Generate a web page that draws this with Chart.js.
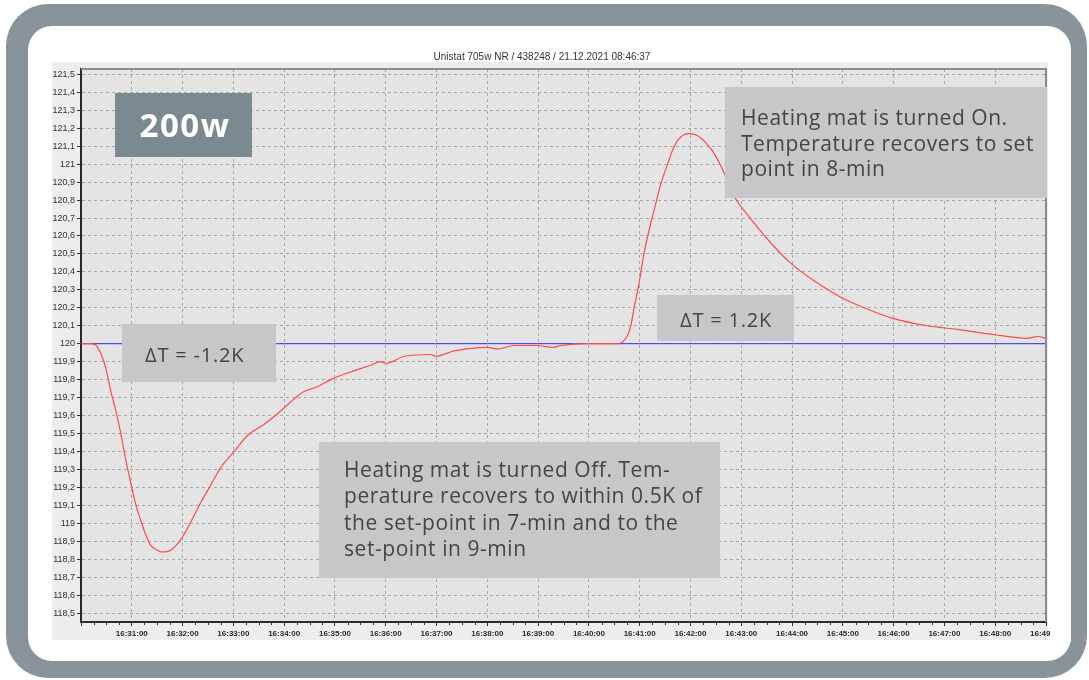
<!DOCTYPE html>
<html>
<head>
<meta charset="utf-8">
<script src="https://cdn.jsdelivr.net/npm/chart.js@4.4.1/dist/chart.umd.min.js"></script>
<style>
  html, body { margin: 0; padding: 0; background: #ffffff; }
  canvas { display: block; }
</style>
</head>
<body>
<canvas id="graficoUnistat" width="1089" height="680"></canvas>
<script>
// Dados (hora da amostra e temperatura em °C)
const chartTitle = "Unistat 705w NR / 438248 / 21.12.2021 08:46:37";

const sampleTimes = [
  "16:30:00", "16:30:12", "16:30:18", "16:30:23", "16:30:29", "16:30:35", "16:30:41", "16:30:47",
  "16:30:53", "16:30:59", "16:31:05", "16:31:11", "16:31:17", "16:31:22", "16:31:30", "16:31:36",
  "16:31:46", "16:31:58", "16:32:10", "16:32:22", "16:32:33", "16:32:45", "16:33:01", "16:33:17",
  "16:33:36", "16:33:52", "16:34:04", "16:34:22", "16:34:39", "16:34:55", "16:35:23", "16:35:42",
  "16:35:54", "16:36:00", "16:36:22", "16:36:53", "16:36:59", "16:37:21", "16:38:00", "16:38:12",
  "16:38:32", "16:38:59", "16:39:17", "16:39:27", "16:39:58", "16:40:22", "16:40:34", "16:40:40",
  "16:40:46", "16:40:50", "16:40:53", "16:40:59", "16:41:05", "16:41:13", "16:41:19", "16:41:25",
  "16:41:33", "16:41:39", "16:41:46", "16:41:58", "16:42:08", "16:42:18", "16:42:28", "16:42:40",
  "16:42:53", "16:43:07", "16:43:19", "16:43:39", "16:43:58", "16:44:26", "16:44:57", "16:45:25",
  "16:46:00", "16:46:40", "16:47:15", "16:47:59", "16:48:38", "16:48:50", "16:49:00"
];

const bathTemps = [
  120.00, 120.00, 119.99, 119.95, 119.87, 119.74, 119.63, 119.50,
  119.35, 119.22, 119.10, 119.01, 118.93, 118.88, 118.85, 118.84,
  118.85, 118.91, 119.01, 119.12, 119.21, 119.31, 119.40, 119.49,
  119.55, 119.61, 119.66, 119.73, 119.76, 119.80, 119.85, 119.88,
  119.90, 119.89, 119.93, 119.94, 119.93, 119.96, 119.98, 119.97,
  119.99, 119.99, 119.98, 119.99, 120.00, 120.00, 120.00, 120.01,
  120.05, 120.11, 120.19, 120.33, 120.50, 120.67, 120.78, 120.89,
  121.00, 121.08, 121.14, 121.17, 121.16, 121.12, 121.06, 120.95,
  120.81, 120.72, 120.65, 120.54, 120.45, 120.35, 120.26, 120.20,
  120.14, 120.10, 120.08, 120.05, 120.03, 120.04, 120.03
];

const setpointTimes = ["16:30:00", "16:49:00"];
const setpointTemps = [120, 120];

const axisStart = "16:30:00";
const axisEnd = "16:49:00";
const tempTicksMin = 118.5;
const tempTicksMax = 121.5;

// Textos das anotações
const powerLabel = "200w";
const dropLabel = "ΔT = -1.2K";
const riseLabel = "ΔT = 1.2K";
const heatingOnNote = ["Heating mat is turned On.", "Temperature recovers to set", "point in 8-min"];
const heatingOffNote = ["Heating mat is turned Off. Tem-", "perature recovers to within 0.5K of",
  "the set-point in 7-min and to the", "set-point in 9-min"];

// Converte "HH:MM:SS" em segundos desde o início do eixo
function toSeconds(hms) {
  const p = hms.split(":").map(Number);
  return p[0] * 3600 + p[1] * 60 + p[2];
}
const baseSeconds = toSeconds(axisStart);
const secFrom = (hms) => toSeconds(hms) - baseSeconds;

function formatClock(sec) {
  const total = baseSeconds + Math.round(sec);
  const h = Math.floor(total / 3600);
  const m = Math.floor((total % 3600) / 60);
  const s = total % 60;
  const pad = (n) => String(n).padStart(2, "0");
  return pad(h) + ":" + pad(m) + ":" + pad(s);
}

const bathPoints = sampleTimes.map((t, i) => ({ x: secFrom(t), y: bathTemps[i] }));
const setpointPoints = setpointTimes.map((t, i) => ({ x: secFrom(t), y: setpointTemps[i] }));

function roundRect(ctx, x, y, w, h, r) {
  ctx.beginPath();
  ctx.moveTo(x + r, y);
  ctx.lineTo(x + w - r, y);
  ctx.arcTo(x + w, y, x + w, y + r, r);
  ctx.lineTo(x + w, y + h - r);
  ctx.arcTo(x + w, y + h, x + w - r, y + h, r);
  ctx.lineTo(x + r, y + h);
  ctx.arcTo(x, y + h, x, y + h - r, r);
  ctx.lineTo(x, y + r);
  ctx.arcTo(x, y, x + r, y, r);
  ctx.closePath();
}

// Moldura, fundo e título
const backgroundPlugin = {
  id: "moldura",
  beforeDraw(chart) {
    const ctx = chart.ctx;
    const a = chart.chartArea;
    ctx.save();
    ctx.fillStyle = "#ffffff";
    ctx.fillRect(0, 0, chart.width, chart.height);
    ctx.fillStyle = "#89949a";
    roundRect(ctx, 6, 4, 1081, 674, 42);
    ctx.fill();
    ctx.fillStyle = "#ffffff";
    roundRect(ctx, 28, 26, 1043, 635, 24);
    ctx.fill();
    ctx.fillStyle = "#ededed";
    ctx.fillRect(52, 62, 996, 578);
    ctx.fillStyle = "#e4e4e4";
    ctx.fillRect(a.left, a.top, a.right - a.left, a.bottom - a.top);
    ctx.fillStyle = "#333333";
    ctx.font = "10px 'Liberation Sans', Arial, sans-serif";
    ctx.textAlign = "center";
    ctx.textBaseline = "middle";
    ctx.fillText(chartTitle, 542, 57);
    ctx.restore();
  },
  afterDatasetsDraw(chart) {
    const ctx = chart.ctx;
    const a = chart.chartArea;
    const xs = chart.scales.x;
    ctx.save();
    // bordas superior e direita
    ctx.strokeStyle = "#8c8c8c";
    ctx.lineWidth = 2;
    ctx.beginPath();
    ctx.moveTo(a.left, a.top);
    ctx.lineTo(a.right, a.top);
    ctx.lineTo(a.right, a.bottom);
    ctx.stroke();
    // marcas menores do eixo X (a cada 15 s)
    ctx.strokeStyle = "#333333";
    ctx.lineWidth = 1;
    for (let s = 15; s < secFrom(axisEnd); s += 15) {
      if (s % 60 === 0) continue;
      const px = Math.round(xs.getPixelForValue(s)) + 0.5;
      ctx.beginPath();
      ctx.moveTo(px, a.bottom);
      ctx.lineTo(px, a.bottom + 3);
      ctx.stroke();
    }
    ctx.restore();
  },
  afterDraw(chart) {
    const ctx = chart.ctx;
    ctx.save();
    // rótulo cortado na borda da imagem
    ctx.fillStyle = "#ffffff";
    ctx.fillRect(1050, 624, 21, 18);

    // caixa "200w"
    ctx.fillStyle = "#7b8a91";
    ctx.fillRect(115, 93, 137, 64);
    ctx.fillStyle = "#ffffff";
    ctx.font = "bold 33px 'Open Sans', sans-serif";
    ctx.letterSpacing = "1.5px";
    ctx.textAlign = "center";
    ctx.textBaseline = "alphabetic";
    ctx.fillText(powerLabel, 185, 137);

    ctx.fillStyle = "#c6c7c9";
    ctx.fillRect(122, 324, 154, 58);
    ctx.fillRect(657, 295, 137, 46);
    ctx.fillRect(725, 87, 322, 111);
    ctx.fillRect(319, 442, 401, 136);

    ctx.fillStyle = "#454545";
    ctx.font = "20px 'Open Sans', sans-serif";
    ctx.letterSpacing = "0.8px";
    ctx.textAlign = "left";
    ctx.fillText(dropLabel, 145, 362);
    ctx.textAlign = "center";
    ctx.fillText(riseLabel, 726, 327);

    ctx.font = "21px 'Open Sans', sans-serif";
    ctx.letterSpacing = "0.55px";
    ctx.textAlign = "left";
    heatingOnNote.forEach((line, i) => ctx.fillText(line, 741, 125 + i * 25.5));
    heatingOffNote.forEach((line, i) => ctx.fillText(line, 344, 477 + i * 26.3));
    ctx.restore();
  }
};

const ctx2d = document.getElementById("graficoUnistat").getContext("2d");

const chart = new Chart(ctx2d, {
  type: "line",
  data: {
    datasets: [
      {
        label: "Temperatura",
        data: bathPoints,
        borderColor: "#ff4a4a",
        borderWidth: 1.2,
        pointRadius: 0,
        cubicInterpolationMode: "monotone",
        fill: false,
        order: 0
      },
      {
        label: "Setpoint",
        data: setpointPoints,
        borderColor: "#3030ff",
        borderWidth: 1,
        pointRadius: 0,
        fill: false,
        order: 1
      }
    ]
  },
  options: {
    responsive: false,
    animation: false,
    events: [],
    layout: {
      padding: { left: 0, top: 69, right: 43, bottom: 40 }
    },
    scales: {
      x: {
        type: "linear",
        min: secFrom(axisStart),
        max: secFrom(axisEnd),
        afterFit(scale) { scale.height = 18; },
        afterBuildTicks(scale) {
          const t = [];
          for (let s = secFrom(axisStart); s <= secFrom(axisEnd); s += 60) t.push({ value: s });
          scale.ticks = t;
        },
        ticks: {
          autoSkip: false,
          maxRotation: 0,
          padding: 3,
          color: "#2b2b2b",
          font: { family: "'Liberation Sans', Arial, sans-serif", size: 8, weight: "bold" },
          callback: function(value) {
            return value === 0 ? "" : formatClock(value); // sem rótulo na origem
          }
        },
        grid: {
          color: "#a8a8a8",
          lineWidth: 1,
          tickColor: "#333333",
          tickLength: 4
        },
        border: {
          color: "#2a2a2a",
          width: 2,
          dash: [3, 3]
        }
      },
      y: {
        min: 118.45,
        max: 121.53,
        afterFit(scale) { scale.width = 81; },
        afterBuildTicks(scale) {
          const t = [];
          for (let v = Math.round(tempTicksMin * 10); v <= Math.round(tempTicksMax * 10); v++) t.push({ value: v / 10 });
          scale.ticks = t;
        },
        ticks: {
          padding: 2,
          color: "#333333",
          font: { family: "'Liberation Sans', Arial, sans-serif", size: 9 },
          callback: function(value) {
            return String(Number(value.toFixed(1))).replace(".", ","); // vírgula decimal
          }
        },
        grid: {
          color: "#a8a8a8",
          lineWidth: 1,
          tickColor: "#333333",
          tickLength: 4
        },
        border: {
          color: "#2a2a2a",
          width: 2,
          dash: [3, 3]
        }
      }
    },
    plugins: {
      legend: { display: false },
      title: { display: false },
      tooltip: { enabled: false }
    }
  },
  plugins: [backgroundPlugin]
});
</script>
</body>
</html>
